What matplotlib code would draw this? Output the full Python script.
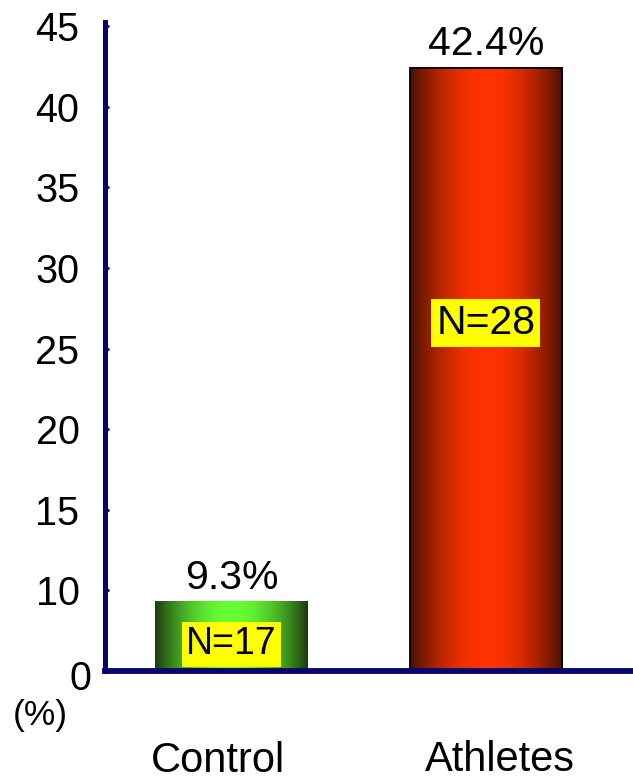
import numpy as np
import matplotlib
matplotlib.use("Agg")
import matplotlib.pyplot as plt
from matplotlib.transforms import ScaledTranslation

plt.rcParams['font.family'] = ['Liberation Sans', 'DejaVu Sans']

# ---- data ----
categories = ["Control", "Athletes"]
values = [9.3, 42.4]
value_labels = ["9.3%", "42.4%"]
n_labels = ["N=17", "N=28"]
ytick_values = [5, 10, 15, 20, 25, 30, 35, 40, 45]
ytick_labels = ["0", "10", "15", "20", "25", "30", "35", "40", "45"]

NAVY = "#06066e"
W, H = 633, 778
fig = plt.figure(figsize=(W / 100, H / 100), dpi=100)
left_px, bottom_px, top_px = 104.5, 671, 22
ax = fig.add_axes([left_px / W, (H - bottom_px) / H, 1 - left_px / W, (bottom_px - top_px) / H])

x = np.arange(len(categories))
YMIN, YMAX = 5, 45.25
ax.set_xlim(-0.5, 1.579)
ax.set_ylim(YMIN, YMAX)

bars = ax.bar(x, values, width=0.6, color="none", edgecolor="none", zorder=2)

# gradient fills
grad_specs = [
    ((0.11, 0.22, 0.06), (0.40, 1.00, 0.20), None),
    ((0.27, 0.06, 0.00), (1.00, 0.20, 0.00), "black"),
]
u = np.linspace(0, 1, 256)
prof = np.sin(np.pi * u) ** 0.9
for bar, (edge_c, cen_c, outline) in zip(bars, grad_specs):
    e = np.array(edge_c)
    c = np.array(cen_c)
    img = e[None, None, :] + (c - e)[None, None, :] * prof[None, :, None]
    bx, by = bar.get_x(), bar.get_y()
    bw, bh = bar.get_width(), bar.get_height()
    y0 = max(by, YMIN)
    im = ax.imshow(img, extent=[bx, bx + bw, y0, by + bh], aspect="auto",
                   interpolation="bilinear", zorder=1)
    im.set_clip_path(bar)
    im.set_clip_box(ax.bbox)
    if outline:
        bar.set_edgecolor(outline)
        bar.set_linewidth(1.3)

ax.set_xlim(-0.5, 1.579)
ax.set_ylim(YMIN, YMAX)

# spines
for s in ["top", "right"]:
    ax.spines[s].set_visible(False)
ax.spines["left"].set_color(NAVY)
ax.spines["left"].set_linewidth(3.6)
ax.spines["bottom"].set_color(NAVY)
ax.spines["bottom"].set_linewidth(4.2)
ax.spines["left"].set_zorder(3)
ax.spines["bottom"].set_zorder(3)

ax.set_xticks([])
ax.set_yticks(ytick_values)
ax.set_yticklabels(ytick_labels, fontsize=28.5)
ax.tick_params(axis="y", direction="in", length=3, width=2, color=NAVY, pad=18)
# the "0" label sits slightly right and lower in the reference
lbl0 = ax.get_yticklabels()[0]
lbl0.set_transform(lbl0.get_transform() + ScaledTranslation(0.115, -0.035, fig.dpi_scale_trans))

# value labels above the bars
for xi, v, lab in zip(x, values, value_labels):
    ax.annotate(lab, xy=(xi, v), xytext=(0, 13), textcoords="offset pixels",
                ha="center", va="baseline", fontsize=29.5, zorder=4,
                annotation_clip=False)

# N labels inside bars
n_pos = [(0, 644.3, 27), (1, 323, 29.5)]
for (xi, ypx, fs), lab in zip(n_pos, n_labels):
    ax.annotate(lab, xy=(xi, 0), xycoords=("data", "figure pixels"),
                xytext=(0, H - ypx), textcoords="offset pixels",
                ha="center", va="center", fontsize=fs, zorder=4,
                bbox=dict(boxstyle="square,pad=0.12", facecolor="#ffff00", edgecolor="none"))

# category labels
cat_off = [(-14, -101), (14, -99.7)]
for xi, lab, (dx, dy) in zip(x, categories, cat_off):
    ax.annotate(lab, xy=(xi, 0), xycoords=("data", "axes fraction"),
                xytext=(dx, dy), textcoords="offset pixels",
                ha="center", va="baseline", fontsize=30, annotation_clip=False)

fig.text(40.5 / W, 1 - 715 / H, "(%)", ha="center", va="center", fontsize=25.5)

fig.savefig("out.png", dpi=100)
